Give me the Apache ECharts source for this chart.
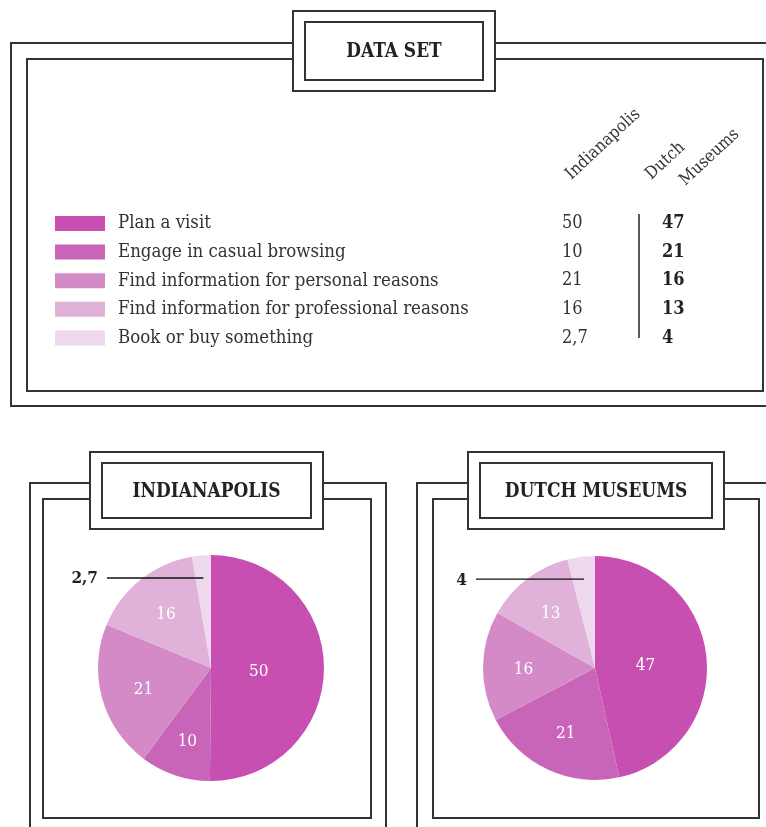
<!DOCTYPE html>
<html>
<head>
<meta charset="utf-8">
<title>Data set</title>
<script src="https://cdn.jsdelivr.net/npm/echarts@6/dist/echarts.min.js"></script>
<style>
  html, body { margin: 0; padding: 0; background: #fff; }
  #main { width: 766px; height: 827px; }
</style>
</head>
<body>
<div id="main"></div>
<script>
// data
const categories = [
  'Plan a visit',
  'Engage in casual browsing',
  'Find information for personal reasons',
  'Find information for professional reasons',
  'Book or buy something'
];
const indianapolis = [50, 10, 21, 16, 2.7];
const dutchMuseums = [47, 21, 16, 13, 4];
const columnHeaders = ['Indianapolis', 'Dutch', 'Museums'];
const mainTitle = 'DATA SET';
const panelTitles = ['INDIANAPOLIS', 'DUTCH MUSEUMS'];

const colors = ['#c64fb1', '#c965b9', '#d48ac7', '#e0b1d9', '#eed8ec'];
const FONT = '"DejaVu Serif Condensed", "DejaVu Serif", serif';
const INK = '#333';

// 2.7 -> "2,7"
function fmt(v) { return String(v).replace('.', ','); }

function rect(x, y, w, h, fill) {
  return {
    type: 'rect', silent: true,
    shape: { x: x, y: y, width: w, height: h },
    style: { fill: fill || 'none', stroke: INK, lineWidth: 2 }
  };
}

function titleBox(x, y, w, h, text) {
  return [
    rect(x, y, w, h, '#fff'),
    rect(x + 12, y + 11, w - 24, h - 22, '#fff'),
    {
      type: 'text', silent: true, x: x + w / 2, y: y + h / 2 + 1, scaleX: 0.9,
      style: { text: text, fill: '#222', font: 'bold 21px ' + FONT, align: 'center', verticalAlign: 'middle' }
    }
  ];
}

function header(text, x, y) {
  return {
    type: 'text', silent: true, x: x, y: y, rotation: 43 * Math.PI / 180,
    style: { text: text, fill: INK, font: '17px ' + FONT, align: 'left', verticalAlign: 'bottom' }
  };
}

// labels sit on the slice centroid; the last (small) slice is called out to the left
function makeLabelLayout(values, center, radius, calloutX) {
  const total = values.reduce((a, b) => a + b, 0);
  const last = values.length - 1;
  return function (p) {
    const i = p.dataIndex;
    let cum = 0;
    for (let k = 0; k < i; k++) cum += values[k];
    const theta = 2 * Math.PI * values[i] / total;
    const mid = 2 * Math.PI * (cum + values[i] / 2) / total;
    const dx = Math.sin(mid), dy = -Math.cos(mid);
    if (i === last) {
      const ax = center[0] + dx * radius * 0.8;
      const ay = center[1] + dy * radius * 0.8;
      return {
        x: calloutX - 9, y: ay + 1, align: 'right', verticalAlign: 'middle',
        labelLinePoints: [[ax, ay], [(ax + calloutX) / 2, ay], [calloutX, ay]]
      };
    }
    const d = radius * 4 * Math.sin(theta / 2) / (3 * theta);
    return { x: center[0] + dx * d, y: center[1] + dy * d + 3, align: 'center', verticalAlign: 'middle' };
  };
}

function pieBase(values, center, radius) {
  return {
    type: 'pie',
    center: center,
    radius: radius,
    startAngle: 90,
    clockwise: true,
    silent: true,
    emphasis: { disabled: true },
    itemStyle: { borderWidth: 0 }
  };
}

function pieSeries(values, center, radius, calloutX) {
  const last = values.length - 1;
  return Object.assign(pieBase(values, center, radius), {
    z: 2,
    data: values.map((v, i) => ({
      value: v, name: categories[i],
      label: { show: i !== last }
    })),
    label: {
      position: 'inside', color: '#fff', fontSize: 17, fontFamily: FONT,
      formatter: p => fmt(p.value)
    },
    labelLine: { show: false },
    labelLayout: makeLabelLayout(values, center, radius, calloutX)
  });
}

// see-through copy on top, only carries the callout so its line stays above the slices
function calloutSeries(values, center, radius, calloutX) {
  const last = values.length - 1;
  return Object.assign(pieBase(values, center, radius), {
    z: 3,
    itemStyle: { color: 'rgba(0,0,0,0)', borderWidth: 0 },
    data: values.map((v, i) => ({
      value: v, name: categories[i],
      label: { show: i === last },
      labelLine: { show: i === last }
    })),
    label: {
      position: 'outside', color: '#222', fontSize: 17, fontFamily: FONT, fontWeight: 'bold',
      formatter: p => fmt(p.value)
    },
    labelLine: { lineStyle: { color: '#111', width: 1.4 } },
    labelLayout: makeLabelLayout(values, center, radius, calloutX)
  });
}

const chart = echarts.init(document.getElementById('main'));

const graphics = [].concat(
  // top frame
  rect(11, 43, 770, 363),
  rect(27, 59, 736, 332),
  titleBox(293, 11, 202, 80, mainTitle),
  // left panel
  rect(30, 483, 356, 360),
  rect(43, 499, 328, 319),
  titleBox(90, 452, 233, 77, panelTitles[0]),
  // right panel
  rect(417, 483, 370, 360),
  rect(433, 499, 326, 319),
  titleBox(468, 452, 256, 77, panelTitles[1]),
  // column headers
  header(columnHeaders[0], 574, 183),
  header(columnHeaders[1], 654, 183),
  header(columnHeaders[2], 688, 189),
  // separator between the value columns
  {
    type: 'line', silent: true,
    shape: { x1: 639, y1: 214, x2: 639, y2: 338 },
    style: { stroke: '#222', lineWidth: 1.5 }
  }
);

chart.setOption({
  animation: false,
  color: colors,
  legend: {
    orient: 'vertical',
    left: 55,
    top: 214,
    padding: 0,
    icon: 'rect',
    itemWidth: 50,
    itemHeight: 15,
    itemGap: 9.6,
    selectedMode: false,
    data: categories,
    formatter: function (name) {
      const i = categories.indexOf(name);
      return '{n|' + name + '}{a|' + fmt(indianapolis[i]) + '}{b|' + fmt(dutchMuseums[i]) + '}';
    },
    textStyle: {
      rich: {
        n: { width: 444, padding: [0, 0, 0, 8], fontSize: 18.5, fontFamily: FONT, color: INK, lineHeight: 15 },
        a: { width: 100, fontSize: 18, fontFamily: FONT, color: INK, lineHeight: 15 },
        b: { fontSize: 18, fontFamily: FONT, color: '#222', fontWeight: 'bold', lineHeight: 15 }
      }
    }
  },
  graphic: { elements: graphics },
  series: [
    pieSeries(indianapolis, [211, 668], 113, 107),
    pieSeries(dutchMuseums, [595, 668], 112, 476),
    calloutSeries(indianapolis, [211, 668], 113, 107),
    calloutSeries(dutchMuseums, [595, 668], 112, 476)
  ]
});
</script>
</body>
</html>
